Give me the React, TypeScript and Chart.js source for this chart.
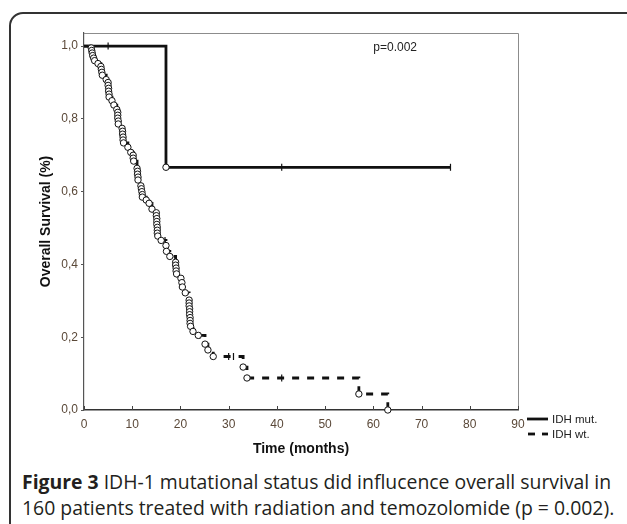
import React, { useEffect, useRef } from 'react';
import { Chart, registerables } from 'chart.js';

Chart.register(...registerables);

// ---- data ----
const xTickValues = [0, 10, 20, 30, 40, 50, 60, 70, 80, 90];
const yTickValues = [0, 0.2, 0.4, 0.6, 0.8, 1.0];
const seriesLabels = ['IDH mut.', 'IDH wt.'];
const pValueText = 'p=0.002';
const xTitle = 'Time (months)';
const yTitle = 'Overall Survival (%)';

// IDH mutant: step curve, events and censored
const mutTimes = [0, 17, 76];
const mutSurv = [1.0, 0.667, 0.667];
const mutEventTimes = [17];
const mutEventSurv = [0.667];
const mutCensorTimes = [5, 41, 76];
const mutCensorSurv = [1.0, 0.667, 0.667];

// IDH wild type: step curve (first point = start), events marked with circles
const wtTimes = [
  0, 1.5, 1.6, 1.7, 1.8, 2.0, 2.2, 2.9, 3.5, 3.6, 3.7, 3.8, 4.6, 5.0, 5.0, 5.1, 5.1, 5.2, 5.2, 5.8,
  6.2, 6.8, 7.0, 7.0, 7.0, 7.1, 7.1, 7.9, 8.0, 8.0, 8.1, 8.1, 8.2, 9.1, 9.7, 10.2, 10.2, 10.3,
  11.0, 11.1, 11.1, 11.2, 11.2, 11.8, 11.9, 12.0, 12.1, 12.1, 12.9, 13.5, 14.1, 15.0, 15.0, 15.1,
  15.1, 15.1, 15.2, 15.2, 15.2, 15.3, 16.0, 17.0, 17.1, 17.8, 19.0, 19.0, 19.1, 19.1, 19.2, 20.1,
  20.3, 20.4, 21.0, 21.8, 21.8, 21.8, 21.9, 21.9, 21.9, 22.0, 22.0, 22.0, 22.1, 22.6, 23.7, 25.1,
  25.7, 26.8, 33.0, 33.8, 57.0, 63.0,
];
const wtSurv = [
  1.0, 0.995, 0.988, 0.981, 0.974, 0.967, 0.96, 0.952, 0.944, 0.936, 0.928, 0.92, 0.908, 0.9, 0.892,
  0.884, 0.876, 0.868, 0.86, 0.85, 0.838, 0.826, 0.818, 0.81, 0.802, 0.794, 0.786, 0.774, 0.766,
  0.758, 0.75, 0.742, 0.734, 0.722, 0.708, 0.7, 0.692, 0.684, 0.664, 0.656, 0.648, 0.64, 0.632,
  0.616, 0.608, 0.6, 0.592, 0.585, 0.577, 0.568, 0.552, 0.542, 0.534, 0.526, 0.518, 0.51, 0.502,
  0.494, 0.486, 0.478, 0.466, 0.452, 0.436, 0.422, 0.406, 0.398, 0.39, 0.382, 0.374, 0.362, 0.35,
  0.338, 0.322, 0.302, 0.294, 0.286, 0.278, 0.27, 0.262, 0.254, 0.246, 0.238, 0.23, 0.216, 0.205,
  0.181, 0.165, 0.147, 0.118, 0.088, 0.044, 0.0,
];
const wtCensorTimes = [13.7, 16.8, 19.3, 22.4, 24.0, 30, 31, 41];
const wtCensorSurv = [0.568, 0.466, 0.374, 0.23, 0.205, 0.147, 0.147, 0.088];

const captionBold = 'Figure 3';
const captionLine1 = ' IDH-1 mutational status did influcence overall survival in';
const captionLine2 = '160 patients treated with radiation and temozolomide (p = 0.002).';

const toPts = (xs: number[], ys: number[]) => xs.map((x, i) => ({ x, y: ys[i] }));

const LABEL_FONT = 'Arial, "Liberation Sans", sans-serif';

const framePlugin = {
  id: 'kmFrame',
  afterDraw(chart: any) {
    const { ctx, chartArea: a, scales } = chart;
    const xs = scales.x;
    const ys = scales.y;
    ctx.save();
    // top and right frame
    ctx.strokeStyle = '#8c8c8c';
    ctx.lineWidth = 1;
    ctx.beginPath();
    ctx.moveTo(a.left, a.top + 0.5);
    ctx.lineTo(a.right + 0.5, a.top + 0.5);
    ctx.lineTo(a.right + 0.5, a.bottom);
    ctx.stroke();
    // inward x ticks
    ctx.strokeStyle = '#444';
    ctx.beginPath();
    xTickValues.forEach((v) => {
      const px = Math.round(xs.getPixelForValue(v)) + 0.5;
      ctx.moveTo(px, a.bottom);
      ctx.lineTo(px, a.bottom - 4);
    });
    ctx.stroke();
    // p value
    ctx.fillStyle = '#222';
    ctx.font = '12px ' + LABEL_FONT;
    ctx.textBaseline = 'middle';
    ctx.textAlign = 'left';
    ctx.fillText(pValueText, xs.getPixelForValue(60), ys.getPixelForValue(1.0) + 2);
    // legend
    const lx0 = a.right + 9;
    const lx1 = a.right + 30;
    const ly0 = a.bottom + 9;
    const ly1 = a.bottom + 24;
    ctx.strokeStyle = '#111';
    ctx.lineWidth = 2.8;
    ctx.beginPath();
    ctx.moveTo(lx0, ly0);
    ctx.lineTo(lx1, ly0);
    ctx.stroke();
    ctx.setLineDash([7, 7]);
    ctx.beginPath();
    ctx.moveTo(lx0 + 1, ly1);
    ctx.lineTo(lx1, ly1);
    ctx.stroke();
    ctx.setLineDash([]);
    ctx.fillStyle = '#222';
    ctx.font = '11.5px ' + LABEL_FONT;
    ctx.fillText(seriesLabels[0], lx1 + 4, ly0 + 1);
    ctx.fillText(seriesLabels[1], lx1 + 4, ly1 + 1);
    ctx.restore();
  },
};

function KMChart() {
  const ref = useRef<HTMLCanvasElement | null>(null);
  useEffect(() => {
    if (!ref.current) return;
    const circle = {
      showLine: false,
      pointStyle: 'circle',
      pointRadius: 3.2,
      pointBackgroundColor: '#fff',
      pointBorderColor: '#111',
      pointBorderWidth: 1,
      clip: false,
      order: 0,
    };
    const censor = {
      showLine: false,
      pointStyle: 'line',
      pointRotation: 90,
      pointRadius: 3.5,
      pointBorderColor: '#111',
      pointBorderWidth: 1.2,
      clip: false,
      order: 0,
    };
    const chart = new Chart(ref.current, {
      type: 'line',
      data: {
        datasets: [
          { label: seriesLabels[0] + ' events', data: toPts(mutEventTimes, mutEventSurv), ...circle } as any,
          { label: seriesLabels[0] + ' censored', data: toPts(mutCensorTimes, mutCensorSurv), ...censor } as any,
          { label: seriesLabels[1] + ' events', data: toPts(wtTimes.slice(1), wtSurv.slice(1)), ...circle } as any,
          { label: seriesLabels[1] + ' censored', data: toPts(wtCensorTimes, wtCensorSurv), ...censor } as any,
          {
            label: seriesLabels[1],
            data: toPts(wtTimes, wtSurv),
            stepped: 'before',
            borderColor: '#111',
            borderWidth: 2.8,
            borderDash: [7, 8],
            pointRadius: 0,
            fill: false,
            clip: false,
            order: 2,
          } as any,
          {
            label: seriesLabels[0],
            data: toPts(mutTimes, mutSurv),
            stepped: 'before',
            borderColor: '#111',
            borderWidth: 2.8,
            pointRadius: 0,
            fill: false,
            clip: false,
            order: 1,
          } as any,
        ],
      },
      options: {
        responsive: false,
        animation: false,
        layout: { padding: { left: 0, top: 33, right: 109, bottom: 0 } },
        plugins: {
          legend: { display: false },
          tooltip: { enabled: false },
        },
        scales: {
          x: {
            type: 'linear',
            min: 0,
            max: 90,
            afterFit: (s: any) => { s.height = 50; },
            afterBuildTicks: (s: any) => { s.ticks = xTickValues.map((v) => ({ value: v })); },
            grid: { display: true, drawOnChartArea: false, drawTicks: false },
            border: { display: true, color: '#333', width: 1.5 },
            ticks: {
              padding: 7,
              color: '#5a4838',
              font: { family: LABEL_FONT, size: 12 },
              maxRotation: 0,
              autoSkip: false,
            },
            title: {
              display: true,
              text: xTitle,
              color: '#111',
              font: { family: LABEL_FONT, size: 14, weight: 'bold' },
              padding: { top: 0, bottom: 2 },
            },
          },
          y: {
            type: 'linear',
            min: 0,
            max: 1.036,
            afterFit: (s: any) => { s.width = 84; },
            afterBuildTicks: (s: any) => { s.ticks = yTickValues.map((v) => ({ value: v })); },
            grid: { display: true, drawOnChartArea: false, drawTicks: true, tickLength: 3, color: '#555' },
            border: { display: true, color: '#555', width: 1.2 },
            ticks: {
              padding: 3,
              color: '#5a4838',
              font: { family: LABEL_FONT, size: 12 },
              callback: (v: any) => Number(v).toFixed(1).replace('.', ','),
            },
            title: {
              display: true,
              text: yTitle,
              color: '#111',
              font: { family: LABEL_FONT, size: 14, weight: 'bold' },
              padding: { top: 38, bottom: 0 },
            },
          },
        },
      } as any,
      plugins: [framePlugin],
    });
    return () => chart.destroy();
  }, []);
  return <canvas ref={ref} width={627} height={460} style={{ position: 'absolute', left: 0, top: 0, width: 627, height: 460 }} />;
}

export default function App() {
  const captionStyle: React.CSSProperties = {
    position: 'absolute',
    left: 22,
    whiteSpace: 'nowrap',
    fontFamily: '"Open Sans", "Noto Sans", sans-serif',
    fontSize: 19.4,
    lineHeight: '26px',
    color: '#231f20',
  };
  return (
    <div style={{ position: 'absolute', left: 0, top: 0, width: 627, height: 524, overflow: 'hidden', background: '#fff' }}>
      <div
        style={{
          position: 'absolute',
          left: 9,
          top: 12,
          width: 700,
          height: 600,
          border: '2px solid #333',
          borderRadius: 14,
          boxSizing: 'border-box',
        }}
      />
      <KMChart />
      <div style={{ ...captionStyle, top: 469 }}>
        <b>{captionBold}</b>
        {captionLine1}
      </div>
      <div style={{ ...captionStyle, top: 495 }}>{captionLine2}</div>
    </div>
  );
}
